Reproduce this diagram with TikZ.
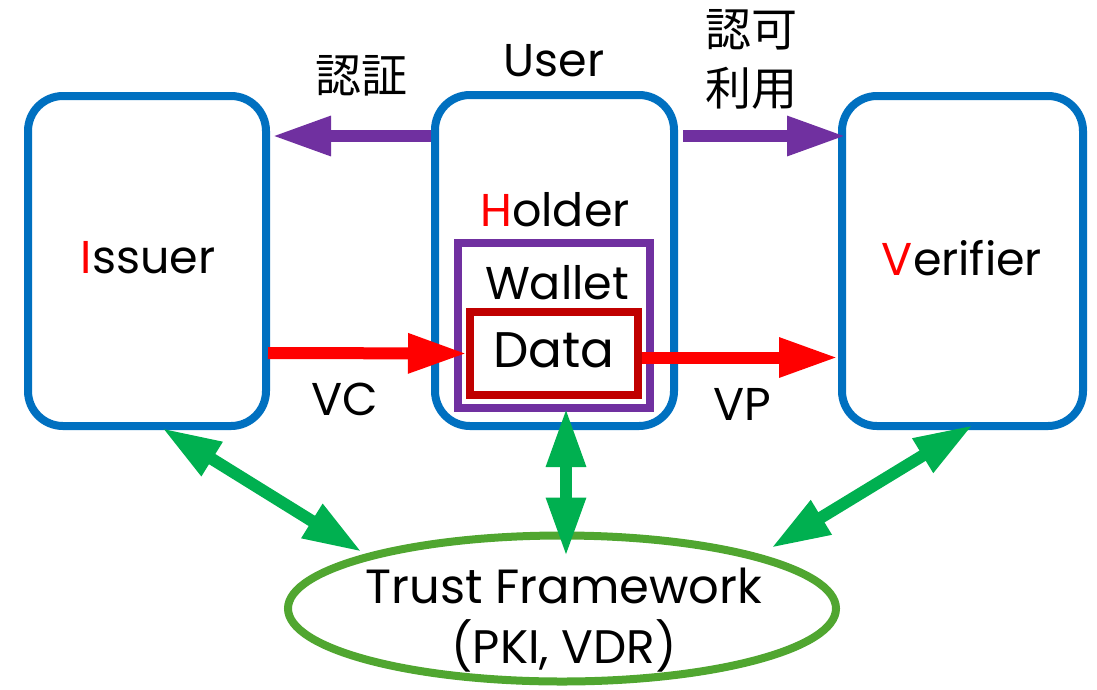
\documentclass[tikz,border=0pt]{standalone}
\usepackage{fontspec}
\setmainfont{Poppins}
\newfontfamily\jpfont{Noto Sans CJK JP}
\usetikzlibrary{arrows.meta,shapes.geometric}

\definecolor{boxblue}{RGB}{0,112,192}
\definecolor{linkpurple}{RGB}{112,48,160}
\definecolor{flowred}{RGB}{255,0,0}
\definecolor{datared}{RGB}{192,0,0}
\definecolor{trustgreen}{RGB}{0,176,80}
\definecolor{ringgreen}{RGB}{80,166,48}

\tikzset{
  role/.style={draw=boxblue, line width=8pt, rounded corners=35pt, inner sep=0pt},
  frame/.style={line width=8pt, inner sep=0pt},
  label/.style={inner sep=0pt, anchor=base, font=\fontsize{46}{50}\selectfont},
  jp/.style={inner sep=0pt, anchor=center, font=\jpfont\fontsize{46}{50}\selectfont},
  bigarrow/.style={line width=12pt, -{Triangle[length=59pt,width=37pt]}},
  twoway/.style={line width=12pt, draw=trustgreen,
    {Triangle[length=59pt,width=37pt]}-{Triangle[length=59pt,width=37pt]}},
}

\begin{document}
\begin{tikzpicture}[x=1pt, y=-1pt]
\useasboundingbox (0,0) rectangle (1097,689);

% the three parties
\node[role, minimum width=238pt, minimum height=330pt] (issuer) at (147,261) {};
\node[role, minimum width=239pt, minimum height=331pt] (user) at (554.5,260.5) {};
\node[role, minimum width=241pt, minimum height=330pt] (verifier) at (962.5,261) {};

% wallet and the data it keeps
\node[frame, draw=linkpurple, minimum width=191.5pt, minimum height=165pt] (wallet) at (553.75,325.5) {};
\node[frame, draw=datared, minimum width=168pt, minimum height=83pt] (data) at (554,353.5) {};

% trust framework
\node[draw=ringgreen, line width=8pt, ellipse, inner sep=0pt,
      minimum width=548pt, minimum height=146pt] (tf) at (562,608.5) {};

% texts
\node[label] (tuser) at (554,76) {User};
\node[label] (tholder) at (555,226) {{\color{flowred}H}older};
\node[label] (twallet) at (557,299) {Wallet};
\node[label, font=\fontsize{50}{54}\selectfont] (tdata) at (554,367) {Data};
\node[label] (tissuer) at (148,273) {{\color{flowred}I}ssuer};
\node[label] (tverifier) at (962,275) {{\color{flowred}V}erifier};
\node[label] (tvc) at (345,415) {VC};
\node[label] (tvp) at (742,420) {VP};
\node[label, font=\fontsize{48}{52}\selectfont] (ttrust) at (564,603) {Trust Framework};
\node[label, font=\fontsize{47}{51}\selectfont] (tpki) at (564,663) {(PKI, VDR)};
\node[jp] (tauthn) at (361,76) {認証};
\node[jp] (tauthz) at (751,30) {認可};
\node[jp] (tuse) at (751,88) {利用};

% authentication and authorisation
\draw[bigarrow, draw=linkpurple] ([yshift=124.5pt]user.west) -- ([xshift=2pt,yshift=125pt]issuer.east);
\draw[bigarrow, draw=linkpurple] ([xshift=5pt,yshift=124.5pt]user.east) -- ([xshift=8pt,yshift=125pt]verifier.west);

% credential and presentation
\draw[bigarrow, draw=flowred] ([xshift=-2pt,yshift=-92pt]issuer.east) -- ([xshift=1pt]data.west);
\draw[bigarrow, draw=flowred] ([yshift=-4pt]data.east) -- ([yshift=-96.5pt]verifier.west);

% trust relations
\draw[twoway] ([xshift=15pt,yshift=2pt]issuer.south) -- ([xshift=-200pt,yshift=56.5pt]tf.center);
\draw[twoway] ([xshift=12.25pt,yshift=4pt]wallet.south) -- ([xshift=4pt,yshift=-25pt]tf.north);
\draw[twoway] ([xshift=10.5pt,yshift=5pt]verifier.south) -- ([xshift=209pt,yshift=60.5pt]tf.center);
\end{tikzpicture}
\end{document}
